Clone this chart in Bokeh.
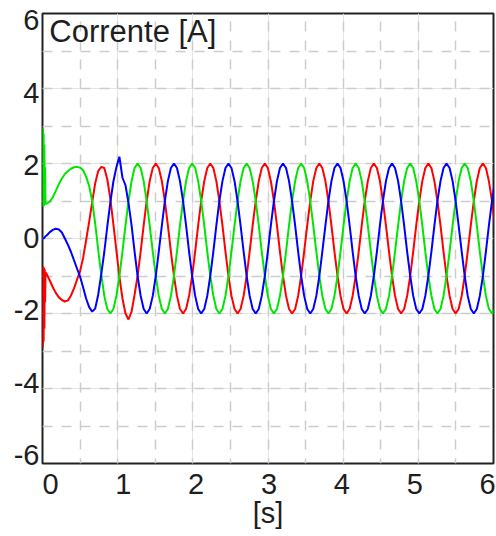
from bokeh.plotting import figure
from bokeh.models import Range1d, LinearAxis, FixedTicker, Grid, Label
from bokeh.embed import file_html
from bokeh.resources import INLINE

# time samples [s]
t = [
    0.0, 0.005, 0.01, 0.015, 0.02, 0.025, 0.03, 0.035, 0.04,
    0.056, 0.097, 0.137, 0.177, 0.218, 0.258, 0.298, 0.339, 0.379, 0.419, 0.459, 0.500, 0.540, 0.580, 0.621, 0.661, 0.701, 0.741,
    0.782, 0.822, 0.862, 0.903, 0.943, 0.983, 1.023, 1.064, 1.104, 1.144, 1.185, 1.225, 1.265, 1.306, 1.346, 1.386, 1.426, 1.467,
    1.507, 1.547, 1.588, 1.628, 1.668, 1.708, 1.749, 1.789, 1.829, 1.870, 1.910, 1.950, 1.991, 2.031, 2.071, 2.111, 2.152, 2.192,
    2.232, 2.273, 2.313, 2.353, 2.394, 2.434, 2.474, 2.514, 2.555, 2.595, 2.635, 2.676, 2.716, 2.756, 2.796, 2.837, 2.877, 2.917,
    2.958, 2.998, 3.038, 3.079, 3.119, 3.159, 3.199, 3.240, 3.280, 3.320, 3.361, 3.401, 3.441, 3.481, 3.522, 3.562, 3.602, 3.643,
    3.683, 3.723, 3.764, 3.804, 3.844, 3.884, 3.925, 3.965, 4.005, 4.046, 4.086, 4.126, 4.166, 4.207, 4.247, 4.287, 4.328, 4.368,
    4.408, 4.449, 4.489, 4.529, 4.569, 4.610, 4.650, 4.690, 4.731, 4.771, 4.811, 4.851, 4.892, 4.932, 4.972, 5.013, 5.053, 5.093,
    5.133, 5.174, 5.214, 5.254, 5.295, 5.335, 5.375, 5.416, 5.456, 5.496, 5.536, 5.577, 5.617, 5.657, 5.698, 5.738, 5.778, 5.818,
    5.859, 5.899, 5.939, 5.980, 6.020,
]

# phase currents [A]
i_red = [
    -0.75, -2.90, -0.75, -2.75, -0.78, -2.40, -0.82, -1.70, -0.90,
    -0.95, -1.12, -1.30, -1.45, -1.57, -1.64, -1.68, -1.65, -1.52, -1.33, -1.10, -0.87, -0.52, -0.05, 0.45, 0.97, 1.47, 1.80,
    1.91, 1.88, 1.58, 1.05, 0.38, -0.32, -1.02, -1.60, -2.00, -2.16, -1.95, -1.50, -1.00, -0.35, 0.35, 1.00, 1.53, 1.88,
    2.00, 1.88, 1.53, 1.00, 0.35, -0.35, -1.00, -1.53, -1.88, -2.00, -1.88, -1.53, -1.00, -0.35, 0.35, 1.00, 1.53, 1.88,
    2.00, 1.88, 1.53, 1.00, 0.35, -0.35, -1.00, -1.53, -1.88, -2.00, -1.88, -1.53, -1.00, -0.35, 0.35, 1.00, 1.53, 1.88,
    2.00, 1.88, 1.53, 1.00, 0.35, -0.35, -1.00, -1.53, -1.88, -2.00, -1.88, -1.53, -1.00, -0.35, 0.35, 1.00, 1.53, 1.88,
    2.00, 1.88, 1.53, 1.00, 0.35, -0.35, -1.00, -1.53, -1.88, -2.00, -1.88, -1.53, -1.00, -0.35, 0.35, 1.00, 1.53, 1.88,
    2.00, 1.88, 1.53, 1.00, 0.35, -0.35, -1.00, -1.53, -1.88, -2.00, -1.88, -1.53, -1.00, -0.35, 0.35, 1.00, 1.53, 1.88,
    2.00, 1.88, 1.53, 1.00, 0.35, -0.35, -1.00, -1.53, -1.88, -2.00, -1.88, -1.53, -1.00, -0.35, 0.35, 1.00, 1.53, 1.88,
    2.00, 1.88, 1.53, 1.00, 0.35,
]

i_green = [
    0.85, 2.95, 0.85, 2.80, 0.87, 2.50, 0.90, 1.90, 0.92,
    0.93, 0.98, 1.10, 1.27, 1.45, 1.60, 1.72, 1.80, 1.86, 1.90, 1.91, 1.89, 1.82, 1.65, 1.40, 1.00, 0.40, -0.30,
    -0.97, -1.53, -1.88, -2.00, -1.88, -1.53, -1.00, -0.35, 0.35, 1.00, 1.53, 1.88, 2.00, 1.88, 1.53, 1.00, 0.35, -0.35,
    -1.00, -1.53, -1.88, -2.00, -1.88, -1.53, -1.00, -0.35, 0.35, 1.00, 1.53, 1.88, 2.00, 1.88, 1.53, 1.00, 0.35, -0.35,
    -1.00, -1.53, -1.88, -2.00, -1.88, -1.53, -1.00, -0.35, 0.35, 1.00, 1.53, 1.88, 2.00, 1.88, 1.53, 1.00, 0.35, -0.35,
    -1.00, -1.53, -1.88, -2.00, -1.88, -1.53, -1.00, -0.35, 0.35, 1.00, 1.53, 1.88, 2.00, 1.88, 1.53, 1.00, 0.35, -0.35,
    -1.00, -1.53, -1.88, -2.00, -1.88, -1.53, -1.00, -0.35, 0.35, 1.00, 1.53, 1.88, 2.00, 1.88, 1.53, 1.00, 0.35, -0.35,
    -1.00, -1.53, -1.88, -2.00, -1.88, -1.53, -1.00, -0.35, 0.35, 1.00, 1.53, 1.88, 2.00, 1.88, 1.53, 1.00, 0.35, -0.35,
    -1.00, -1.53, -1.88, -2.00, -1.88, -1.53, -1.00, -0.35, 0.35, 1.00, 1.53, 1.88, 2.00, 1.88, 1.53, 1.00, 0.35, -0.35,
    -1.00, -1.53, -1.88, -2.00, -1.88,
]

i_blue = [
    0.00, 0.00, 0.00, 0.01, 0.01, 0.02, 0.03, 0.05, 0.06,
    0.08, 0.17, 0.23, 0.26, 0.24, 0.16, 0.00, -0.17, -0.36, -0.58, -0.80, -1.02, -1.30, -1.60, -1.83, -1.95, -1.87, -1.50,
    -0.95, -0.36, 0.32, 0.97, 1.52, 1.90, 2.18, 1.62, 1.42, 0.95, 0.35, -0.35, -1.00, -1.53, -1.88, -2.00, -1.88, -1.53,
    -1.00, -0.35, 0.35, 1.00, 1.53, 1.88, 2.00, 1.88, 1.53, 1.00, 0.35, -0.35, -1.00, -1.53, -1.88, -2.00, -1.88, -1.53,
    -1.00, -0.35, 0.35, 1.00, 1.53, 1.88, 2.00, 1.88, 1.53, 1.00, 0.35, -0.35, -1.00, -1.53, -1.88, -2.00, -1.88, -1.53,
    -1.00, -0.35, 0.35, 1.00, 1.53, 1.88, 2.00, 1.88, 1.53, 1.00, 0.35, -0.35, -1.00, -1.53, -1.88, -2.00, -1.88, -1.53,
    -1.00, -0.35, 0.35, 1.00, 1.53, 1.88, 2.00, 1.88, 1.53, 1.00, 0.35, -0.35, -1.00, -1.53, -1.88, -2.00, -1.88, -1.53,
    -1.00, -0.35, 0.35, 1.00, 1.53, 1.88, 2.00, 1.88, 1.53, 1.00, 0.35, -0.35, -1.00, -1.53, -1.88, -2.00, -1.88, -1.53,
    -1.00, -0.35, 0.35, 1.00, 1.53, 1.88, 2.00, 1.88, 1.53, 1.00, 0.35, -0.35, -1.00, -1.53, -1.88, -2.00, -1.88, -1.53,
    -1.00, -0.35, 0.35, 1.00, 1.53,
]

x_ticks = [0, 1, 2, 3, 4, 5, 6]
y_ticks = [-6, -4, -2, 0, 2, 4, 6]
y_tick_labels = ["-6", "-4", "-2", "0", "2", "4", "6"]
x_grid = [0.5, 1.0, 1.5, 2.0, 2.5, 3.0, 3.5, 4.0, 4.5, 5.0, 5.5]
y_grid = [-5, -4, -3, -2, -1, 0, 1, 2, 3, 4, 5]
title_text = "Corrente [A]"
x_label_text = "[s]"

FONT = "Liberation Sans"
TXT = "#1e1e1e"

p = figure(width=496, height=536, output_backend="svg", toolbar_location=None,
           x_range=Range1d(0, 6), y_range=Range1d(-6, 6),
           x_axis_location=None, y_axis_location=None,
           min_border_left=42, min_border_right=3, min_border_top=13, min_border_bottom=73)
p.outline_line_color = "#222222"
p.outline_line_width = 2
p.background_fill_color = "white"
p.border_fill_color = "white"

p.extra_x_ranges = {"xlab": Range1d(-0.110, 6.082)}
p.extra_y_ranges = {"ylab": Range1d(-6.221, 6.193)}

vg = Grid(dimension=0, ticker=FixedTicker(ticks=x_grid), grid_line_color="#cccccc",
          grid_line_width=1.5, grid_line_dash="10 9", grid_line_dash_offset=5)
hg = Grid(dimension=1, ticker=FixedTicker(ticks=y_grid), grid_line_color="#cccccc",
          grid_line_width=1.5, grid_line_dash="10 9", grid_line_dash_offset=0)
p.add_layout(vg)
p.add_layout(hg)

xa = LinearAxis(x_range_name="xlab", ticker=FixedTicker(ticks=x_ticks),
                axis_line_color=None, major_tick_line_color=None, minor_tick_line_color=None,
                major_tick_in=0, major_tick_out=0,
                major_label_text_font=FONT, major_label_text_font_size="29px",
                major_label_text_color=TXT, major_label_standoff=10,
                axis_label=x_label_text, axis_label_text_font=FONT,
                axis_label_text_font_size="29px", axis_label_text_font_style="normal",
                axis_label_text_color=TXT, axis_label_standoff=0)
ya = LinearAxis(y_range_name="ylab", ticker=FixedTicker(ticks=y_ticks),
                axis_line_color=None, major_tick_line_color=None, minor_tick_line_color=None,
                major_tick_in=0, major_tick_out=0,
                major_label_overrides={v: s for v, s in zip(y_ticks, y_tick_labels)},
                major_label_text_font=FONT, major_label_text_font_size="29px",
                major_label_text_color=TXT, major_label_standoff=3)
p.add_layout(xa, "below")
p.add_layout(ya, "left")

p.line(t, i_red, line_color="#ff0000", line_width=2)
p.line(t, i_green, line_color="#00e600", line_width=2)
p.line(t, i_blue, line_color="#0000ff", line_width=2)

p.add_layout(Label(x=0.09, y=5.98, text=title_text, text_font=FONT, text_font_size="31px",
                   text_color=TXT, text_baseline="top", text_align="left"))

open("out.html", "w").write(file_html(p, INLINE))
